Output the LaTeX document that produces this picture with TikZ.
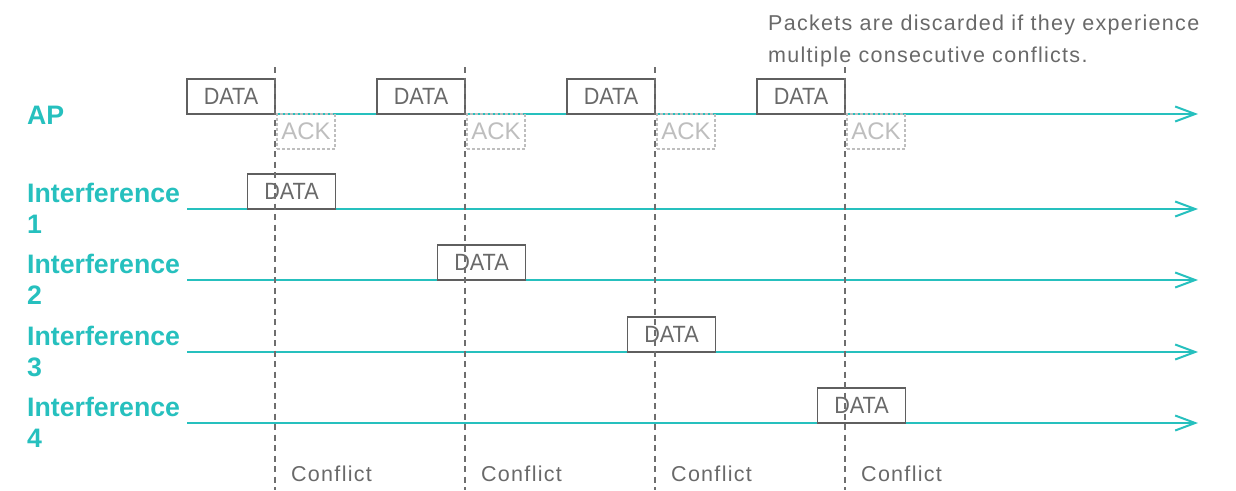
\documentclass[tikz,border=0pt]{standalone}
\usepackage{fontspec}
\setmainfont{Liberation Sans}
\newfontfamily\lightfont[LetterSpace=6]{Liberation Sans}
\newfontfamily\datafont[FakeStretch=0.92]{Liberation Sans}
\usetikzlibrary{arrows.meta}
\definecolor{tealc}{RGB}{38,192,190}
\definecolor{boxgray}{RGB}{95,95,95}
\definecolor{txtgray}{RGB}{105,105,105}
\definecolor{ackgray}{RGB}{190,190,190}
\definecolor{vgray}{RGB}{110,110,110}
\begin{document}
\begin{tikzpicture}[x=1pt,y=-1pt,
  tline/.style={draw=tealc, line width=2pt, -{Straight Barb[length=20pt,width=15pt]}},
  databox/.style={draw=boxgray, line width=1.4pt, minimum width=88pt, minimum height=35pt, inner sep=0pt, font=\datafont\fontsize{23.5}{23.5}\selectfont, text=txtgray},
  ackbox/.style={draw=ackgray, dash pattern=on 3pt off 2pt, line width=1.2pt, minimum width=58pt, minimum height=35pt, inner sep=0pt, font=\fontsize{24}{24}\selectfont, text=ackgray},
  vline/.style={draw=vgray, line width=1.5pt, dash pattern=on 6pt off 4.5pt},
  lab/.style={text=tealc, font=\bfseries\fontsize{26.7}{31}\selectfont, inner sep=0pt, anchor=base west, align=left},
  lighttext/.style={text=txtgray, font=\lightfont\fontsize{21.5}{32}\selectfont, inner sep=0pt, anchor=base west, align=left}
]
\useasboundingbox (0,0) rectangle (1236,490);

% time lines
\coordinate (aps) at (187,114);  \coordinate (ape) at (1198,114);
\coordinate (i1s) at (187,209);  \coordinate (i1e) at (1198,209);
\coordinate (i2s) at (187,280);  \coordinate (i2e) at (1198,280);
\coordinate (i3s) at (187,352);  \coordinate (i3e) at (1198,352);
\coordinate (i4s) at (187,423);  \coordinate (i4e) at (1198,423);
\draw[tline] (aps) -- (ape);
\draw[tline] (i1s) -- (i1e);
\draw[tline] (i2s) -- (i2e);
\draw[tline] (i3s) -- (i3e);
\draw[tline] (i4s) -- (i4e);

% labels (base anchor = baseline of the last line)
\node[lab] (lap) at (27,124) {AP};
\node[lab] (li1) at (27,233) {Interference\\1};
\node[lab] (li2) at (27,304) {Interference\\2};
\node[lab] (li3) at (27,376) {Interference\\3};
\node[lab] (li4) at (27,447) {Interference\\4};

% AP data and ack boxes
\node[databox] (d1) at (231,96.5) {DATA};
\node[databox] (d2) at (421,96.5) {DATA};
\node[databox] (d3) at (611,96.5) {DATA};
\node[databox] (d4) at (801,96.5) {DATA};
\node[ackbox] (a1) at (306,131.5) {ACK};
\node[ackbox] (a2) at (496,131.5) {ACK};
\node[ackbox] (a3) at (686,131.5) {ACK};
\node[ackbox] (a4) at (876,131.5) {ACK};

% interference data boxes
\node[databox] (n1) at (291.5,191.5) {DATA};
\node[databox] (n2) at (481.5,262.5) {DATA};
\node[databox] (n3) at (671.5,334.5) {DATA};
\node[databox] (n4) at (861.5,405.5) {DATA};

% conflict lines
\coordinate (v1t) at (275,67); \coordinate (v1b) at (275,490);
\coordinate (v2t) at (465,67); \coordinate (v2b) at (465,490);
\coordinate (v3t) at (655,67); \coordinate (v3b) at (655,490);
\coordinate (v4t) at (845,67); \coordinate (v4b) at (845,490);
\draw[vline] (v1t) -- (v1b);
\draw[vline] (v2t) -- (v2b);
\draw[vline] (v3t) -- (v3b);
\draw[vline] (v4t) -- (v4b);

\node[lighttext] (c1) at (291,481) {Conflict};
\node[lighttext] (c2) at (481,481) {Conflict};
\node[lighttext] (c3) at (671,481) {Conflict};
\node[lighttext] (c4) at (861,481) {Conflict};

\node[lighttext] (note) at (768,62) {Packets are discarded if they experience\\multiple consecutive conflicts.};
\end{tikzpicture}
\end{document}
